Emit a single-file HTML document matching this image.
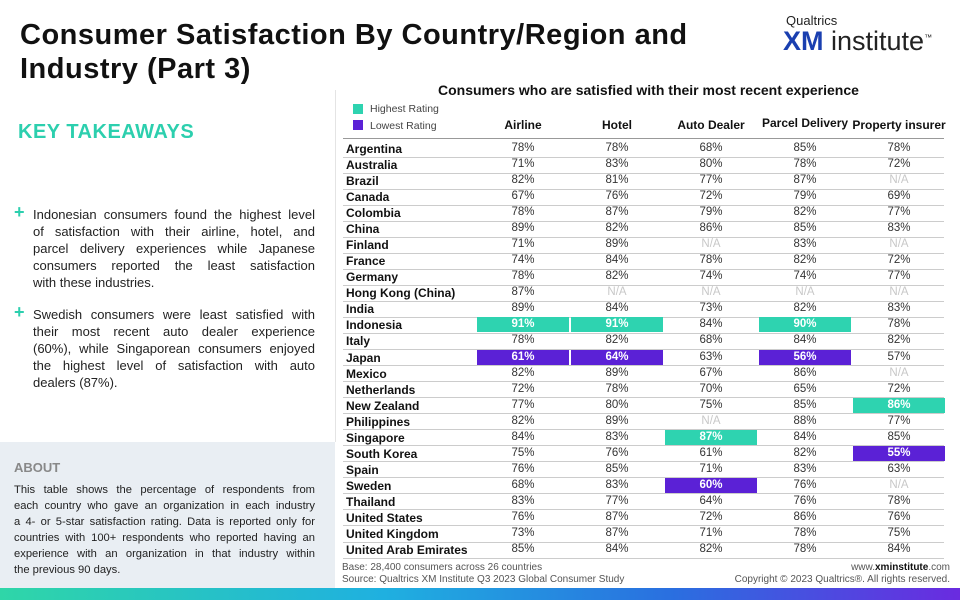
<!DOCTYPE html>
<html><head><meta charset="utf-8">
<style>
body{margin:0;width:960px;height:600px;position:relative;overflow:hidden;background:#fff;font-family:"Liberation Sans",sans-serif;color:#111}
.abs{position:absolute}
#title{left:20px;top:18px;font-size:29px;font-weight:bold;line-height:34px;letter-spacing:0.5px;width:740px}
#kt{left:18px;top:121px;font-size:20px;font-weight:bold;color:#2ccfae;letter-spacing:0.5px}
.bul{left:33px;width:282px;font-size:13px;line-height:17px;color:#222}
.ln{text-align:justify;text-align-last:justify;white-space:nowrap}
.ln.l{text-align-last:left}
.plus{left:14px;font-size:18px;color:#2ccfae;font-weight:bold}
#about{left:0;top:442px;width:335px;height:146px;background:#e9eef3}
#about h4{margin:0;position:absolute;left:14px;top:18px;font-size:13px;color:#888;font-weight:bold}
#abouttext{position:absolute;left:14px;top:40px;width:301px;font-size:11.2px;line-height:16px;color:#222}
#grad{left:0;top:588px;width:960px;height:12px;background:linear-gradient(90deg,#2fd6a8,#1fb0e0 40%,#2a6fe0 70%,#6a2be0)}
#tt{left:438px;top:82px;font-size:14px;font-weight:bold}
.hdr{font-size:12px;font-weight:bold;text-align:center;width:94px}
.cn{left:346px;font-size:12px;font-weight:bold}
.cell{font-size:11.5px;text-align:center;width:92px;height:15px;line-height:15px;color:#333}
.line{left:343px;width:601px;height:1px;background:#ccc}
</style></head><body>
<div id="title" class="abs">Consumer Satisfaction By Country/Region and<br>Industry (Part 3)</div>
<div class="abs" style="left:786px;top:13px;font-size:13px;color:#222">Qualtrics</div>
<div class="abs" style="left:783px;top:26px;font-size:27px;color:#222"><b style="color:#1a3fb0">XM</b> institute<sup style="font-size:8px">™</sup></div>
<div id="kt" class="abs">KEY TAKEAWAYS</div>
<div class="abs plus" style="top:202px">+</div>
<div class="abs bul" style="top:206px"><div class="ln">Indonesian consumers found the highest level</div><div class="ln">of satisfaction with their airline, hotel, and</div><div class="ln">parcel delivery experiences while Japanese</div><div class="ln">consumers reported the least satisfaction</div><div class="ln l">with these industries.</div></div>
<div class="abs plus" style="top:302px">+</div>
<div class="abs bul" style="top:306px"><div class="ln">Swedish consumers were least satisfied with</div><div class="ln">their most recent auto dealer experience</div><div class="ln">(60%), while Singaporean consumers enjoyed</div><div class="ln">the highest level of satisfaction with auto</div><div class="ln l">dealers (87%).</div></div>
<div id="about" class="abs"><h4>ABOUT</h4><div id="abouttext"><div class="ln">This table shows the percentage of respondents from</div><div class="ln">each country who gave an organization in each industry</div><div class="ln">a 4- or 5-star satisfaction rating. Data is reported only for</div><div class="ln">countries with 100+ respondents who reported having an</div><div class="ln">experience with an organization in that industry within</div><div class="ln l">the previous 90 days.</div></div></div>
<div class="abs" style="left:335px;top:90px;width:1px;height:352px;background:#e4e4e4"></div>
<div id="tt" class="abs">Consumers who are satisfied with their most recent experience</div>
<div class="abs" style="left:353px;top:104px;width:10px;height:10px;background:#2ed3b0"></div>
<div class="abs" style="left:370px;top:103px;font-size:10.5px;color:#444">Highest Rating</div>
<div class="abs" style="left:353px;top:120px;width:10px;height:10px;background:#5b21d6"></div>
<div class="abs" style="left:370px;top:120px;font-size:10.5px;color:#444">Lowest Rating</div>
<div id="tbl"></div>
<div class="abs" style="left:342px;top:562px;font-size:10px;color:#555;line-height:12px">Base: 28,400 consumers across 26 countries<br>Source: Qualtrics XM Institute Q3 2023 Global Consumer Study</div>
<div class="abs" style="right:10px;top:562px;font-size:10px;color:#555;line-height:12px;text-align:right">www.<b style="color:#111">xminstitute</b>.com<br>Copyright © 2023 Qualtrics®. All rights reserved.</div>
<div id="grad" class="abs"></div>
<script>
const industries=["Airline","Hotel","Auto Dealer","Parcel Delivery","Property insurer"];
const countries=["Argentina","Australia","Brazil","Canada","Colombia","China","Finland","France","Germany","Hong Kong (China)","India","Indonesia","Italy","Japan","Mexico","Netherlands","New Zealand","Philippines","Singapore","South Korea","Spain","Sweden","Thailand","United States","United Kingdom","United Arab Emirates"];
const airline=[78,71,82,67,78,89,71,74,78,87,89,91,78,61,82,72,77,82,84,75,76,68,83,76,73,85];
const hotel=[78,83,81,76,87,82,89,84,82,null,84,91,82,64,89,78,80,89,83,76,85,83,77,87,87,84];
const autoDealer=[68,80,77,72,79,86,null,78,74,null,73,84,68,63,67,70,75,null,87,61,71,60,64,72,71,82];
const parcel=[85,78,87,79,82,85,83,82,74,null,82,90,84,56,86,65,85,88,84,82,83,76,76,86,78,78];
const property=[78,72,null,69,77,83,null,72,77,null,83,78,82,57,null,72,86,77,85,55,63,null,78,76,75,84];
const series=[airline,hotel,autoDealer,parcel,property];
const T=document.getElementById('tbl');
const colL=476,colW=94,row0=141,rowH=16.04;
function mk(cls,l,t,txt){const d=document.createElement('div');d.className='abs '+cls;d.style.left=l+'px';d.style.top=t+'px';d.textContent=txt;T.appendChild(d);return d;}
industries.forEach((n,i)=>{const d=mk('hdr',colL+i*colW,n==="Parcel Delivery"?116:118,n);

});
const hl=mk('line',343,138,'');hl.style.background='#999';


countries.forEach((c,r)=>{const y=row0+r*rowH;
 const cn=mk('cn',346,y+1,c);
 
 
 const ln=mk('line',343,y+rowH-0.5,'');
 
 
 series.forEach((s,i)=>{const v=s[r];
  const vals=s.filter(x=>x!==null);const mx=Math.max(...vals),mn=Math.min(...vals);
  const d=mk('cell',colL+i*colW+1,y,v===null?'N/A':v+'%');
  if(v===null){d.style.color='#c8c8c8';}
  else if(v===mx){d.style.background='#2ed3b0';d.style.color='#fff';d.style.fontWeight='bold';}
  else if(v===mn){d.style.background='#5b21d6';d.style.color='#fff';d.style.fontWeight='bold';}
  
  
 });
});
</script>
</body></html>
